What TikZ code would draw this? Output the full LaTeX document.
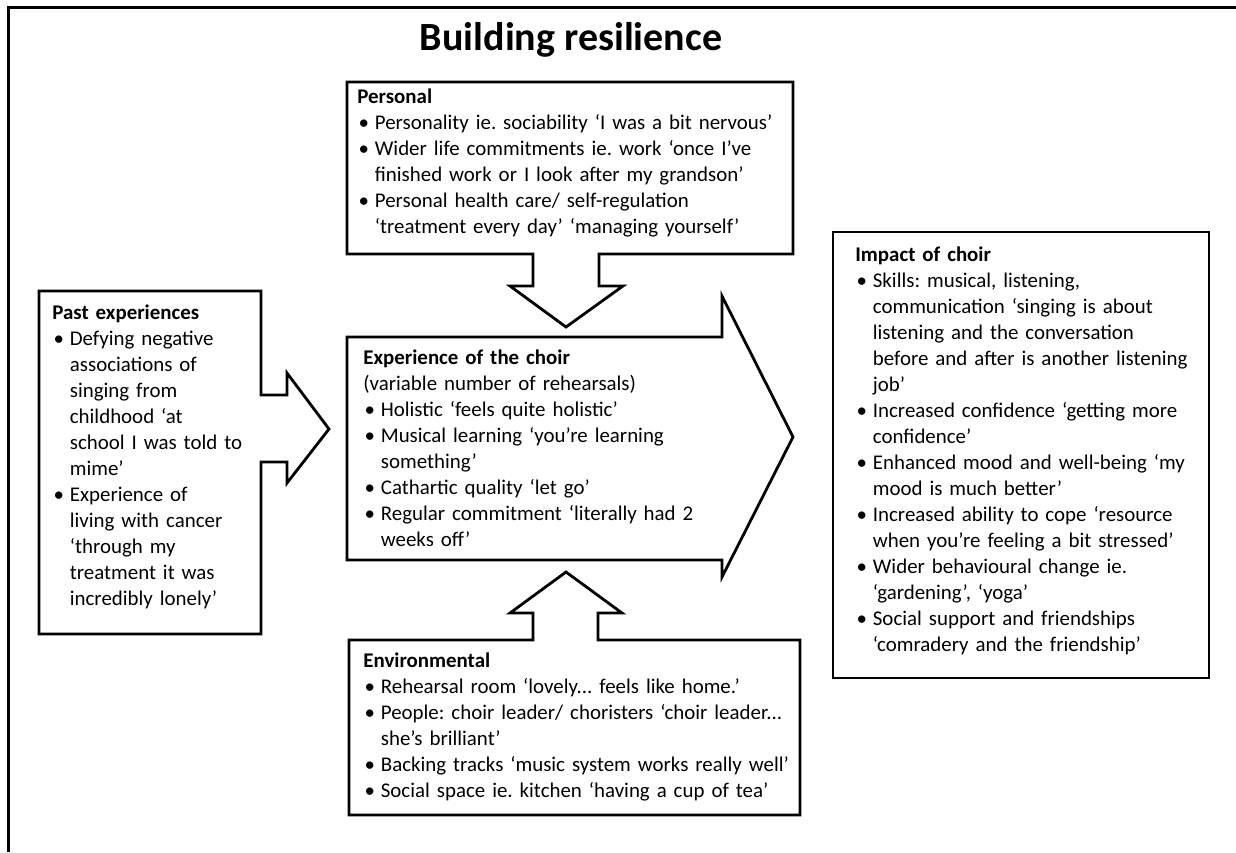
\documentclass[tikz,border=0pt]{standalone}
\usepackage{fontspec}
\setmainfont{Carlito}
\usepackage{tikz}

% bullet line with hanging indent
\newcommand{\bul}{\par\hangindent=8.75pt\hangafter=1\noindent\makebox[8.75pt][l]{\hspace{0.6pt}\textbullet}}

\begin{document}
\frenchspacing
\begin{tikzpicture}[x=0.5pt,y=-0.5pt,
  outline/.style={draw=black, line width=1.4pt, line join=miter},
  boxtext/.style={anchor=base west, inner sep=0pt, align=left, text width=260pt,
    font=\fontsize{10.45}{13}\selectfont\frenchspacing}]
\useasboundingbox (0,0) rectangle (1236,852);

% outer frame
\draw[line width=1.5pt] (1236,7) -- (8,7) -- (8,852);
\node (title) at (571,50) [anchor=base, inner sep=0pt, font=\bfseries\fontsize{20}{24}\selectfont] {Building resilience};

% personal box with arrow down
\draw[outline] (347,82) -- (793,82) -- (793,254) -- (599,254) -- (599,286) -- (623,286) -- (566,327)
  -- (510,286) -- (533,286) -- (533,254) -- (347,254) -- cycle;
% past experiences box with arrow right
\draw[outline] (39,291) -- (261,291) -- (261,395) -- (287,395) -- (287,373) -- (329,429)
  -- (287,483) -- (287,462) -- (261,462) -- (261,634) -- (39,634) -- cycle;
% central arrow
\draw[outline] (347,337) -- (722,337) -- (722,296) -- (793,437) -- (722,577) -- (722,560) -- (347,560) -- cycle;
% environmental box with arrow up
\draw[outline] (349,640) -- (533,640) -- (533,613) -- (510,613) -- (566,572) -- (622,613) -- (598,613)
  -- (598,640) -- (800,640) -- (800,815) -- (349,815) -- cycle;
% impact box
\draw[outline] (833,232) rectangle (1209,678);

\node (personal) at (357,103) [boxtext] {\textbf{Personal}
\bul Personality ie. sociability ‘I was a bit nervous’
\bul Wider life commitments ie. work ‘once I’ve\newline finished work or I look after my grandson’
\bul Personal health care/ self-regulation\newline ‘treatment every day’ ‘managing yourself’\par};

\node (past) at (52,319) [boxtext] {\textbf{Past experiences}
\bul Defying negative\newline associations of\newline singing from\newline childhood ‘at\newline school I was told to\newline mime’
\bul Experience of\newline living with cancer\newline ‘through my\newline treatment it was\newline incredibly lonely’\par};

\node (choir) at (363,364) [boxtext] {\textbf{Experience of the choir}\newline
(variable number of rehearsals)
\bul Holistic ‘feels quite holistic’
\bul Musical learning ‘you’re learning\newline something’
\bul Cathartic quality ‘let go’
\bul Regular commitment ‘literally had 2\newline weeks off’\par};

\node (environ) at (363,667) [boxtext] {\textbf{Environmental}
\bul Rehearsal room ‘lovely... feels like home.’
\bul People: choir leader/ choristers ‘choir leader...\newline she’s brilliant’
\bul Backing tracks ‘music system works really well’
\bul Social space ie. kitchen ‘having a cup of tea’\par};

\node (impact) at (855,261) [boxtext] {\textbf{Impact of choir}
\bul Skills: musical, listening,\newline communication ‘singing is about\newline listening and the conversation\newline before and after is another listening\newline job’
\bul Increased confidence ‘getting more\newline confidence’
\bul Enhanced mood and well-being ‘my\newline mood is much better’
\bul Increased ability to cope ‘resource\newline when you’re feeling a bit stressed’
\bul Wider behavioural change ie.\newline ‘gardening’, ‘yoga’
\bul Social support and friendships\newline ‘comradery and the friendship’\par};
\end{tikzpicture}
\end{document}
